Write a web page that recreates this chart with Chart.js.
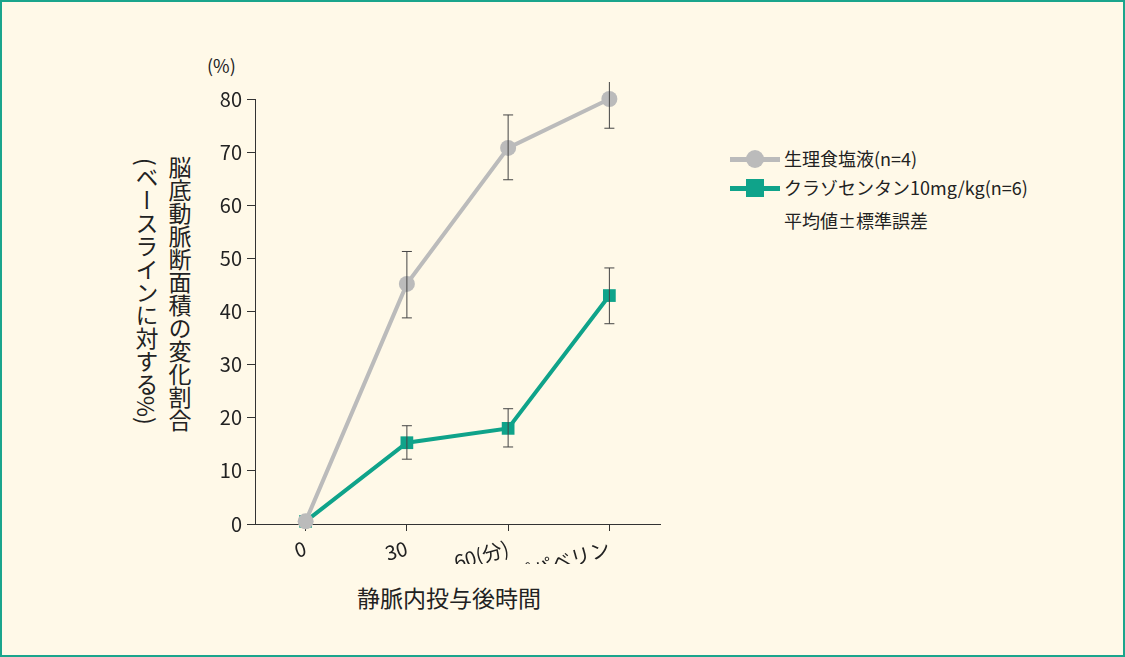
<!DOCTYPE html>
<html><head><meta charset="utf-8">
<script src="https://cdn.jsdelivr.net/npm/chart.js@4/dist/chart.umd.min.js"></script>
<style>
body{margin:0;width:1125px;height:657px;overflow:hidden;font-family:"Noto Sans CJK JP","Noto Sans",sans-serif;}
#frame{position:absolute;left:0;top:0;width:1121px;height:653px;border:2px solid #1aa58c;background:#fff9e8;}
#wrap{position:absolute;left:200px;top:82px;width:480px;height:482px;}
.t{position:absolute;color:#222;}
.v{writing-mode:vertical-rl;font-size:23px;line-height:1;}
</style></head><body>
<div id="frame"></div>
<div id="wrap"><canvas id="c"></canvas></div>
<div class="t" style="left:207px;top:52px;font-size:18px;">(%)</div>
<div class="t v" style="left:168px;top:156px;">脳底動脈断面積の変化割合</div>
<div class="t v" style="left:135px;top:158px;">(ベースラインに対する%)</div>
<div class="t" style="left:357px;top:580px;font-size:23px;">静脈内投与後時間</div>
<div style="position:absolute;left:730px;top:157px;width:50px;height:5px;background:#bbb"></div>
<div style="position:absolute;left:746px;top:150px;width:18px;height:18px;border-radius:50%;background:#bbb"></div>
<div class="t" style="left:784px;top:145px;font-size:18px;">生理食塩液(n=4)</div>
<div style="position:absolute;left:730px;top:186px;width:50px;height:5px;background:#0fa38a"></div>
<div style="position:absolute;left:746px;top:179px;width:18px;height:18px;background:#0fa38a"></div>
<div class="t" style="left:784px;top:174px;font-size:18px;">クラゾセンタン10mg/kg(n=6)</div>
<div class="t" style="left:784px;top:207px;font-size:18px;">平均値±標準誤差</div>
<script>
const categories=['0','30','60(分)','パパベリン'];
const salineMean=[0.5,45.2,70.8,80];
const salineLow=[null,38.8,64.8,74.5];
const salineHigh=[null,51.3,77,85];
const clazoMean=[0.5,15.3,18,43];
const clazoLow=[null,12.2,14.5,37.7];
const clazoHigh=[null,18.5,21.7,48.2];
const yTicks=[0,10,20,30,40,50,60,70,80];
const errPlugin={id:'err',afterDatasetsDraw(ch){
  const ctx=ch.ctx,x=ch.scales.x,y=ch.scales.y;
  ctx.save();ctx.strokeStyle='#444';ctx.lineWidth=1;
  [[salineLow,salineHigh],[clazoLow,clazoHigh]].forEach(([lo,hi])=>{
    lo.forEach((l,i)=>{if(l==null)return;const px=x.getPixelForValue(i),a=y.getPixelForValue(l),b=y.getPixelForValue(hi[i]);
      ctx.beginPath();ctx.moveTo(px,a);ctx.lineTo(px,b);ctx.moveTo(px-5,a);ctx.lineTo(px+5,a);ctx.moveTo(px-5,b);ctx.lineTo(px+5,b);ctx.stroke();});
  });ctx.restore();}};
Chart.defaults.font.family='"Noto Sans CJK JP","Noto Sans",sans-serif';
Chart.defaults.color='#222';
new Chart(document.getElementById('c'),{type:'line',
data:{labels:categories,datasets:[
{data:salineMean,borderColor:'#bbb',backgroundColor:'#bbb',borderWidth:4,pointStyle:'circle',pointRadius:8,pointBorderWidth:0,clip:false},
{data:clazoMean,borderColor:'#0fa38a',backgroundColor:'#0fa38a',borderWidth:4,pointStyle:'rect',pointRadius:9,pointBorderWidth:0,clip:false}]},
options:{responsive:true,maintainAspectRatio:false,animation:false,
layout:{padding:{top:3,right:20,left:0,bottom:0}},
plugins:{legend:{display:false},tooltip:{enabled:false}},
scales:{
x:{type:'category',offset:true,grid:{offset:false,drawOnChartArea:false,tickLength:7,color:'#333'},border:{color:'#333'},
 ticks:{font:{size:20},padding:5},afterFit(s){s.height=40;}},
y:{min:0,max:80,afterBuildTicks(s){s.ticks=yTicks.map(v=>({value:v}));},
 grid:{drawOnChartArea:false,tickLength:8,color:'#333'},border:{color:'#333'},
 ticks:{font:{size:20},padding:5},afterFit(s){s.width=55;}}}},
plugins:[errPlugin]});
</script></body></html>
